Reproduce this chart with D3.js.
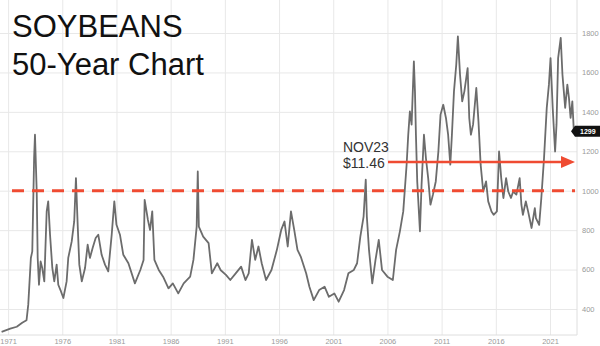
<!DOCTYPE html>
<html><head><meta charset="utf-8">
<script src="https://cdn.jsdelivr.net/npm/d3@7"></script>
<style>
html,body{margin:0;padding:0;background:#fff;overflow:hidden}
svg{display:block;font-family:"Liberation Sans",Arial,sans-serif}
</style></head>
<body><svg id="c" width="600" height="346"></svg>
<script>
// ---- data (decimal year, cents per bushel) ----
const years = [1970.4,1971.2,1971.8,1972.3,1972.7,1972.86,1973.1,1973.23,1973.4,1973.48,1973.64,1973.73,1973.85,1974.0,1974.15,1974.34,1974.56,1974.7,1974.87,1975.08,1975.26,1975.48,1975.63,1975.88,1976.1,1976.4,1976.55,1976.87,1977.1,1977.26,1977.42,1977.57,1977.8,1978.1,1978.34,1978.55,1978.8,1979.08,1979.32,1979.63,1979.94,1980.24,1980.56,1980.8,1981.0,1981.32,1981.63,1982.1,1982.7,1983.2,1983.5,1983.6,1983.9,1984.1,1984.3,1984.5,1984.9,1985.3,1985.8,1986.2,1986.7,1987.2,1987.8,1988.1,1988.4,1988.5,1988.6,1989.0,1989.5,1989.8,1990.3,1990.6,1991.1,1991.5,1992.0,1992.5,1992.9,1993.2,1993.5,1993.8,1994.1,1994.4,1994.8,1995.3,1995.8,1996.2,1996.5,1996.8,1997.1,1997.4,1997.7,1998.0,1998.5,1998.8,1999.2,1999.7,2000.2,2000.6,2001.1,2001.5,2002.0,2002.4,2002.9,2003.2,2003.5,2003.8,2004.0,2004.1,2004.3,2004.6,2004.9,2005.2,2005.5,2006.0,2006.5,2006.8,2007.15,2007.46,2007.77,2007.92,2008.07,2008.23,2008.44,2008.54,2008.63,2008.75,2008.9,2009.0,2009.15,2009.37,2009.55,2009.76,2009.97,2010.2,2010.46,2010.7,2010.9,2011.15,2011.4,2011.6,2011.8,2011.95,2012.14,2012.35,2012.5,2012.7,2012.9,2013.1,2013.4,2013.55,2013.7,2013.9,2014.2,2014.4,2014.6,2014.84,2015.1,2015.3,2015.6,2015.8,2016.1,2016.3,2016.5,2016.7,2016.95,2017.15,2017.4,2017.6,2017.9,2018.2,2018.36,2018.5,2018.77,2018.98,2019.3,2019.6,2019.7,2020.0,2020.2,2020.45,2020.7,2020.9,2021.05,2021.25,2021.47,2021.6,2021.75,2021.99,2022.15,2022.4,2022.6,2022.75,2022.9,2023.06,2023.2];
const prices = [284,300,310,330,343,422,659,692,1166,1284,996,659,523,641,608,540,895,946,777,608,540,625,523,489,456,540,659,743,844,1064,827,625,540,608,726,659,709,760,777,675,625,591,777,946,827,777,675,632,530,598,649,954,852,801,895,649,598,564,505,530,479,530,564,649,818,1098,818,767,734,581,632,598,573,547,581,615,547,581,751,649,717,632,547,598,700,801,844,717,895,801,700,666,581,513,445,496,513,462,479,437,496,581,598,632,767,869,1056,869,700,530,649,751,598,564,547,700,794,895,1132,1284,1402,1335,1656,1504,1284,1047,895,794,1030,1284,1166,1064,929,980,1047,1199,1386,1436,1369,1284,1132,1284,1504,1639,1783,1588,1453,1504,1622,1369,1284,1335,1521,1352,1132,996,1047,946,895,878,895,1199,1064,963,1064,996,963,996,980,1064,929,878,946,895,811,912,861,827,963,1166,1420,1538,1673,1420,1199,1335,1673,1775,1588,1420,1538,1470,1369,1453,1301];
const xTickYears = [1971,1976,1981,1986,1991,1996,2001,2006,2011,2016,2021];
const yTickValues = [400,600,800,1000,1200,1400,1600,1800];
const titleLines = ["SOYBEANS","50-Year Chart"];
const refLevel = 1000;
const nov23Price = 1146;
const noteLines = ["NOV23","$11.46"];
const lastLabel = "1299";

// ---- layout ----
const svg = d3.select("#c");
const plotRight = 577, plotBottom = 335;
const x = d3.scaleLinear().domain([1971, 2021]).range([8.1, 550]);
const y = d3.scaleLinear().domain([400, 1800]).range([309, 33]);
const red = "#ef4b32";

// grid + axes
const gx = svg.append("g").attr("transform", `translate(0,${plotBottom})`)
  .call(d3.axisBottom(x).tickValues(xTickYears).tickFormat(d3.format("d"))
    .tickSize(-plotBottom).tickPadding(4));
gx.select(".domain").remove();
gx.selectAll("line").attr("stroke", "#e8e8e8");
gx.selectAll("text").attr("fill", "#9a9a9a").attr("font-size", 7.5);

const gy = svg.append("g").attr("transform", `translate(${plotRight},0)`)
  .call(d3.axisRight(y).tickValues(yTickValues).tickFormat(d3.format("d"))
    .tickSize(-plotRight).tickPadding(5));
gy.select(".domain").remove();
gy.selectAll("line").attr("stroke", "#e8e8e8");
gy.selectAll("text").attr("fill", "#9a9a9a").attr("font-size", 7.5);

// borders
svg.append("line").attr("x1", 0).attr("x2", plotRight).attr("y1", plotBottom).attr("y2", plotBottom)
  .attr("stroke", "#dedede");
svg.append("line").attr("x1", plotRight).attr("x2", plotRight).attr("y1", 0).attr("y2", plotBottom)
  .attr("stroke", "#dedede");

// price line
const pts = years.map((t, i) => [t, prices[i]]);
svg.append("path").datum(pts)
  .attr("fill", "none").attr("stroke", "#6c6c6c").attr("stroke-width", 1.8)
  .attr("stroke-linejoin", "round")
  .attr("d", d3.line().x(d => x(d[0])).y(d => y(d[1])));

// dashed reference line
svg.append("line").attr("x1", 12).attr("x2", 575).attr("y1", y(refLevel)).attr("y2", y(refLevel))
  .attr("stroke", red).attr("stroke-width", 3).attr("stroke-dasharray", "12,8");

// arrow
const ay = y(nov23Price);
svg.append("line").attr("x1", 388).attr("x2", 563).attr("y1", ay).attr("y2", ay)
  .attr("stroke", red).attr("stroke-width", 2.5);
svg.append("path").attr("d", `M${575},${ay} L${561},${ay - 6} L${561},${ay + 6} Z`).attr("fill", red);

// annotation text
svg.append("text").attr("x", 343).attr("y", 151.5).text(noteLines[0])
  .attr("font-size", 14).attr("fill", "#333");
svg.append("text").attr("x", 343).attr("y", 168).text(noteLines[1])
  .attr("font-size", 14).attr("fill", "#333");

// last price tag
const ly = y(prices[prices.length - 1]);
svg.append("path").attr("d", `M571,${ly} L575,${ly - 5.5} L600,${ly - 5.5} L600,${ly + 5.5} L575,${ly + 5.5} Z`)
  .attr("fill", "#111");
svg.append("text").attr("x", 580).attr("y", ly + 2.6).text(lastLabel)
  .attr("font-size", 7).attr("font-weight", "bold").attr("fill", "#fff");

// title
svg.append("text").attr("x", 12).attr("y", 36.7).text(titleLines[0])
  .attr("font-size", 31).attr("fill", "#111");
svg.append("text").attr("x", 12).attr("y", 75).text(titleLines[1])
  .attr("font-size", 31).attr("fill", "#111");
</script></body></html>
